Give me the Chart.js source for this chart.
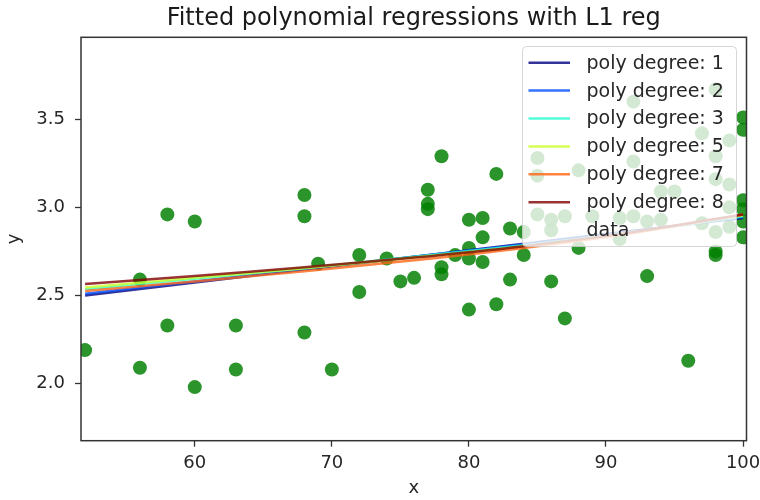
<!DOCTYPE html>
<html>
<head>
<meta charset="utf-8">
<script src="https://cdn.jsdelivr.net/npm/chart.js@4/dist/chart.umd.min.js"></script>
<style>
  html, body { margin: 0; padding: 0; background: #ffffff; }
  #c { display: block; }
</style>
</head>
<body>
<canvas id="c" width="760" height="500"></canvas>
<script>
// ---- data ----
const titleText = 'Fitted polynomial regressions with L1 reg';
const xTicks = [60, 70, 80, 90, 100];
const yTicks = [2.0, 2.5, 3.0, 3.5];

const dataX = [52, 56, 56, 58, 58, 60, 60, 63, 63, 68, 68, 68, 69, 70, 72, 72, 74, 75, 76,
  77, 77, 77, 78, 78, 78, 79, 80, 80, 80, 80, 81, 81, 81, 82, 82, 83, 83, 84, 84,
  85, 85, 85, 86, 86, 86, 87, 87, 88, 88, 89, 91, 91, 92, 92, 92, 93, 93, 94, 94, 95, 96,
  97, 97, 98, 98, 98, 98, 98, 98, 99, 99, 99, 99, 100, 100, 100, 100, 100, 100];
const dataY = [2.19, 2.59, 2.09, 2.96, 2.33, 2.92, 1.98, 2.33, 2.08, 3.07, 2.95, 2.29, 2.68, 2.08, 2.73, 2.52, 2.71, 2.58, 2.60,
  3.10, 3.02, 2.99, 3.29, 2.66, 2.62, 2.73, 2.93, 2.77, 2.71, 2.42, 2.94, 2.83, 2.69, 3.19, 2.45, 2.88, 2.59, 2.86, 2.73,
  3.28, 3.18, 2.96, 2.93, 2.87, 2.58, 2.95, 2.37, 3.21, 2.77, 2.95, 2.94, 2.82, 3.60, 3.26, 2.95, 2.92, 2.61, 3.09, 2.93, 3.09, 2.13,
  3.42, 2.91, 3.67, 3.29, 3.16, 2.86, 2.75, 2.73, 3.38, 3.13, 3.00, 2.89, 3.51, 3.44, 3.04, 2.99, 2.92, 2.83];

const lineX = [52, 60, 68, 76, 84, 92, 100];
const deg1Y = [2.500, 2.573, 2.647, 2.720, 2.793, 2.867, 2.940];
const deg2Y = [2.510, 2.580, 2.650, 2.720, 2.790, 2.865, 2.945];
const deg3Y = [2.535, 2.595, 2.655, 2.720, 2.785, 2.860, 2.950];
const deg5Y = [2.545, 2.600, 2.655, 2.715, 2.780, 2.860, 2.955];
const deg7Y = [2.525, 2.580, 2.638, 2.700, 2.770, 2.855, 2.960];
const deg8Y = [2.565, 2.610, 2.660, 2.715, 2.780, 2.860, 2.960];

const lineLabels = ['poly degree: 1', 'poly degree: 2', 'poly degree: 3', 'poly degree: 5', 'poly degree: 7', 'poly degree: 8'];
const dataLabel = 'data';
// ---------------------------------------

const lineSeries = [deg1Y, deg2Y, deg3Y, deg5Y, deg7Y, deg8Y];
const lineColors = [
  'rgba(0,0,128,0.8)',
  'rgba(0,77,255,0.8)',
  'rgba(41,255,206,0.8)',
  'rgba(206,255,41,0.8)',
  'rgba(255,100,20,0.8)',
  'rgba(128,0,0,0.8)'
];
const FONT = "'DejaVu Sans', sans-serif";

const datasets = lineSeries.map((ys, i) => ({
  label: lineLabels[i],
  data: lineX.map((x, j) => ({ x: x, y: ys[j] })),
  showLine: true,
  borderColor: lineColors[i],
  backgroundColor: lineColors[i],
  borderWidth: 2.5,
  pointRadius: 0,
  tension: 0.3,
  fill: false,
  order: lineSeries.length - i
}));
datasets.push({
  label: dataLabel,
  data: dataX.map((x, j) => ({ x: x, y: dataY[j] })),
  showLine: false,
  pointRadius: 7,
  pointHoverRadius: 7,
  pointBorderWidth: 0,
  backgroundColor: 'rgba(0,128,0,0.83)',
  borderColor: 'rgba(0,128,0,0)',
  order: 10
});

const framePlugin = {
  id: 'frame',
  afterDatasetsDraw(chart) {
    const a = chart.chartArea, ctx = chart.ctx;
    ctx.save();
    // legend box
    const lx = 522.5, ly = 46.5, lw = 214, lh = 200, r = 4;
    ctx.beginPath();
    ctx.moveTo(lx + r, ly);
    ctx.arcTo(lx + lw, ly, lx + lw, ly + lh, r);
    ctx.arcTo(lx + lw, ly + lh, lx, ly + lh, r);
    ctx.arcTo(lx, ly + lh, lx, ly, r);
    ctx.arcTo(lx, ly, lx + lw, ly, r);
    ctx.closePath();
    ctx.fillStyle = 'rgba(255,255,255,0.8)';
    ctx.fill();
    ctx.strokeStyle = 'rgba(204,204,204,0.8)';
    ctx.lineWidth = 1;
    ctx.stroke();
    const ds = chart.data.datasets;
    ctx.font = '19px ' + FONT;
    ctx.textBaseline = 'middle';
    ctx.textAlign = 'left';
    for (let i = 0; i < ds.length; i++) {
      const yy = 62.7 + i * 27.9;
      if (ds[i].showLine) {
        ctx.beginPath();
        ctx.moveTo(528.5, yy);
        ctx.lineTo(570, yy);
        ctx.strokeStyle = ds[i].borderColor;
        ctx.lineWidth = 2.5;
        ctx.stroke();
      }
      ctx.fillStyle = '#262626';
      ctx.fillText(ds[i].label, 586.5, yy + 1);
    }
    // axes frame
    ctx.strokeStyle = '#333333';
    ctx.lineWidth = 1.5;
    ctx.strokeRect(a.left, a.top, a.right - a.left, a.bottom - a.top);
    ctx.restore();
  }
};

new Chart(document.getElementById('c'), {
  type: 'scatter',
  data: { datasets: datasets },
  plugins: [framePlugin],
  options: {
    responsive: false,
    animation: false,
    events: [],
    layout: { padding: { top: 0, right: 13.5, bottom: 0, left: 0 } },
    plugins: {
      legend: { display: false },
      tooltip: { enabled: false },
      title: {
        display: true,
        fullSize: false,
        text: titleText,
        color: '#1a1a1a',
        font: { family: FONT, size: 24, weight: 'normal', lineHeight: 1.2 },
        padding: { top: 4.5, bottom: 4 }
      }
    },
    scales: {
      x: {
        type: 'linear',
        min: 51.7,
        max: 100.25,
        afterBuildTicks: s => { s.ticks = xTicks.map(v => ({ value: v })); },
        afterFit: s => { s.height = 59.3; s.paddingLeft = 0; s.paddingRight = 0; },
        border: { display: false },
        grid: { display: true, drawOnChartArea: false, drawTicks: true, tickLength: 6, tickColor: '#333333', tickWidth: 1.3 },
        ticks: { color: '#262626', font: { family: FONT, size: 18 }, padding: 6, maxRotation: 0, callback: v => String(v) },
        title: { display: true, text: 'x', color: '#262626', font: { family: FONT, size: 18, lineHeight: 1.2 }, padding: { top: 0, bottom: 1 } }
      },
      y: {
        type: 'linear',
        min: 1.676,
        max: 3.965,
        afterBuildTicks: s => { s.ticks = yTicks.map(v => ({ value: v })); },
        afterFit: s => { s.width = 81; s.paddingTop = 0; s.paddingBottom = 0; },
        border: { display: false },
        grid: { display: true, drawOnChartArea: false, drawTicks: true, tickLength: 6, tickColor: '#333333', tickWidth: 1.3 },
        ticks: { color: '#262626', font: { family: FONT, size: 18 }, padding: 10, callback: v => Number(v).toFixed(1) },
        title: { display: true, text: 'y', color: '#262626', font: { family: FONT, size: 18, lineHeight: 1.2 }, padding: { top: 4, bottom: 0 } }
      }
    }
  }
});
</script>
</body>
</html>
